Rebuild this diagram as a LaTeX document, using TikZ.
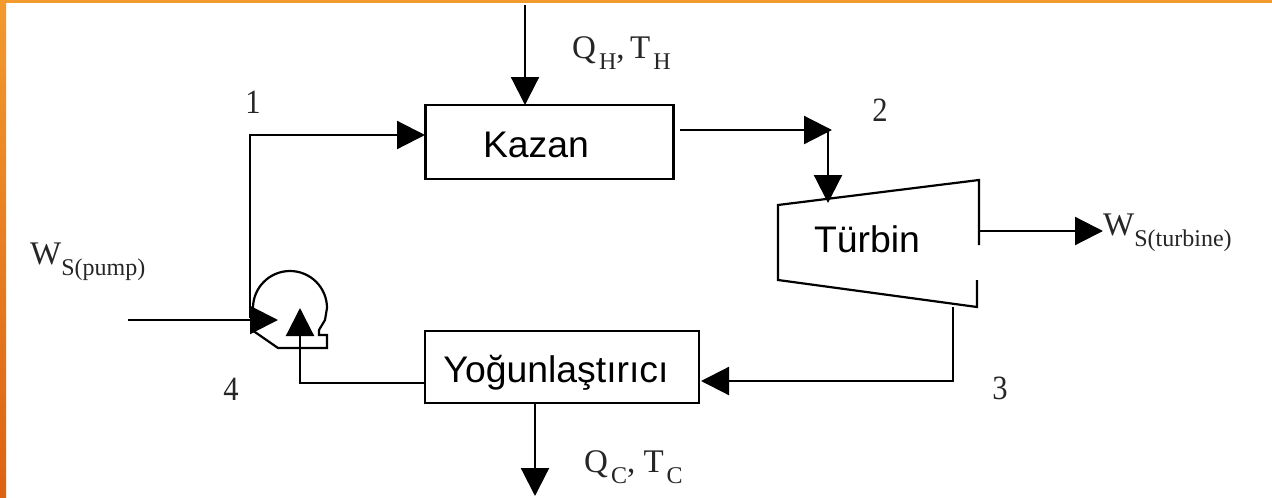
\documentclass[tikz,border=0pt]{standalone}
\usepackage{fontspec}
\setmainfont{Liberation Serif}
\newfontfamily\arialf{Liberation Sans}
\usetikzlibrary{arrows.meta,calc}
\definecolor{frameT}{HTML}{F29A2E}
\definecolor{frameB}{HTML}{DD6212}
\tikzset{
 x=1pt,y=-1pt,
 wire/.style={line width=2.2pt,draw=black},
 flow/.style={wire,-{Triangle[length=28pt,width=28pt]}},
 unitbox/.style={draw=black,line width=2.4pt,fill=white,inner sep=0pt},
 unitname/.style={font=\arialf\fontsize{37}{40}\selectfont,inner sep=0pt,anchor=base,xscale=1.01},
 mark label/.style={font=\fontsize{34}{36}\selectfont,inner sep=0pt,text=black!85,xscale=0.9},
 qty/.style={font=\fontsize{33}{36}\selectfont,inner sep=0pt,anchor=base west,text=black!85},
}
\newcommand{\subs}[1]{\kern3pt{\fontsize{24}{26}\selectfont\raisebox{-11pt}{#1}}}
\newcommand{\subw}[1]{{\fontsize{24}{26}\selectfont\raisebox{-11pt}{#1}}}
\begin{document}
\begin{tikzpicture}
\useasboundingbox (0,0) rectangle (1272,498);
\fill[white] (0,0) rectangle (1272,498);
\shade[top color=frameT,bottom color=frameB] (0,0) rectangle (6,498);
\fill[frameT] (0,0) rectangle (1272,3);

% units
\node[unitbox,minimum width=248pt,minimum height=74pt] (kazan) at (549.5,142) {};
\node[unitname] (kazanT) at (536,157) {Kazan};
\node[unitbox,minimum width=274pt,minimum height=72pt] (yog) at (562,367) {};
\node[unitname] (yogT) at (556,382) {Yoğunlaştırıcı};

% turbine
\coordinate (tTL) at (778,205);
\coordinate (tTR) at (979,180);
\coordinate (tRm) at (979,245);
\coordinate (tBL) at (778,280);
\coordinate (tBR) at (977,307);
\coordinate (tRb) at (977,280);
\draw[wire,line join=miter] (tRm) -- (tTR) -- (tTL) -- (tBL) -- (tBR) -- (tRb);
\node[unitname] (turT) at (867,252) {Türbin};

% pump
\coordinate (pStart) at (253,308);
\draw[wire] (pStart) arc[start angle=180,end angle=0,radius=37pt] -- (325,320) -- (319,330) -- (319,335) -- (327,335) -- (327,348) -- (278,348) -- (252,330);

% anchors
\coordinate (qhIn) at (525,5);
\coordinate (qhEnd) at (525,105);
\coordinate (c1) at (250,135);
\coordinate (p1) at (250,318);
\coordinate (kIn) at (425,135);
\coordinate (kOut) at (680,130);
\coordinate (c2) at (832,130);
\coordinate (c2b) at (828,130);
\coordinate (tIn) at (828,203);
\coordinate (tOut) at (979,231);
\coordinate (wt) at (1103,231);
\coordinate (t3) at (953,307);
\coordinate (c3) at (953,381);
\coordinate (yIn) at (701,381);
\coordinate (yL) at (425,383);
\coordinate (c4) at (300,383);
\coordinate (pIn) at (300,308);
\coordinate (wpS) at (128,320);
\coordinate (wpE) at (278,320);
\coordinate (yB) at (535,403);
\coordinate (qcE) at (535,496);

\draw[flow] (qhIn) -- (qhEnd);
\draw[flow] (p1) -- (c1) -- (kIn);
\draw[flow] (kOut) -- (c2);
\draw[flow] (c2b) -- (tIn);
\draw[flow] (tOut) -- (wt);
\draw[flow] (t3) -- (c3) -- (yIn);
\draw[flow] (yL) -- (c4) -- (pIn);
\draw[flow] (wpS) -- (wpE);
\draw[flow] (yB) -- (qcE);

% labels
\node[mark label] (n1) at (253,102) {1};
\node[mark label] (n2) at (880,110) {2};
\node[mark label] (n3) at (1000,388) {3};
\node[mark label] (n4) at (231,389) {4};
\node[qty] (qh) at (572,58) {Q\subs{H},\,T\subs{H}};
\node[qty] (qc) at (584,472) {Q\subs{C}, T\subs{C}};
\node[qty] (wp) at (30,264) {W\subw{S(pump)}};
\node[qty] (wtL) at (1103,235) {W\subw{S(turbine)}};
\end{tikzpicture}
\end{document}
